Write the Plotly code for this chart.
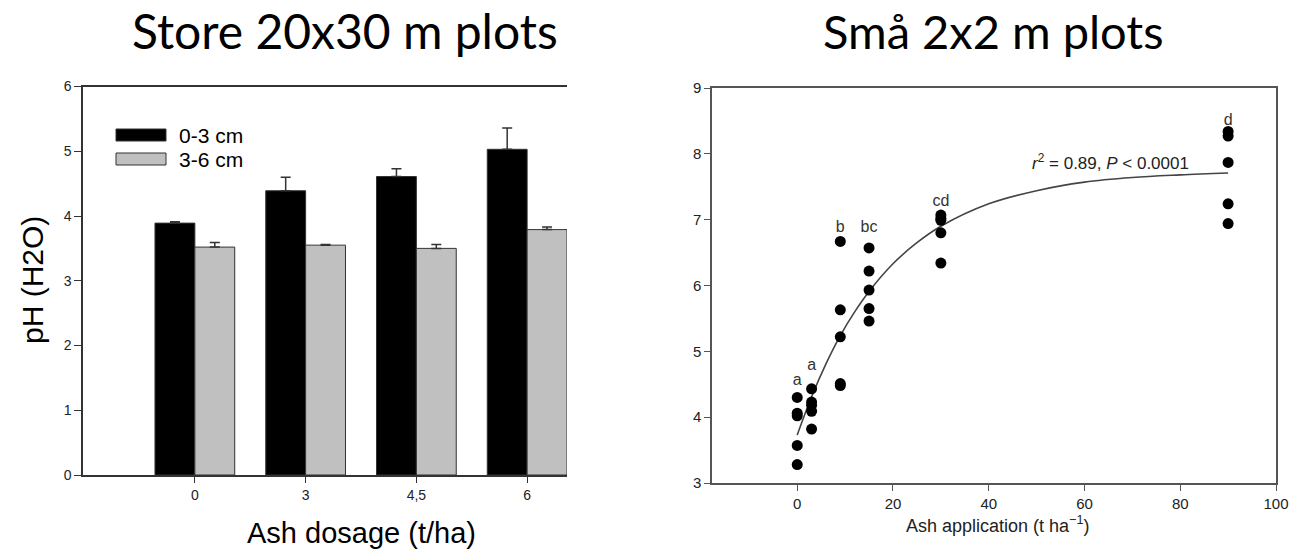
import plotly.graph_objects as go

# ---------------- data: left panel (Store 20x30 m plots) ----------------
dosage_labels = ["0", "3", "4,5", "6"]
ph_0_3 = [3.89, 4.39, 4.61, 5.03]
err_0_3 = [0.02, 0.21, 0.12, 0.33]
ph_3_6 = [3.52, 3.55, 3.50, 3.79]
err_3_6 = [0.07, 0.01, 0.06, 0.04]
series_names = ["0-3 cm", "3-6 cm"]

# ---------------- data: right panel (Små 2x2 m plots) ----------------
ash_x = [0, 0, 0, 0, 0,
         3, 3, 3, 3, 3,
         9, 9, 9, 9, 9,
         15, 15, 15, 15, 15,
         30, 30, 30, 30, 30,
         90, 90, 90, 90, 90]
ash_ph = [4.30, 4.06, 4.02, 3.57, 3.28,
          4.43, 4.23, 4.18, 4.09, 3.82,
          6.67, 5.63, 5.22, 4.51, 4.48,
          6.57, 6.22, 5.93, 5.65, 5.46,
          7.07, 7.02, 6.99, 6.80, 6.34,
          8.34, 8.27, 7.87, 7.24, 6.94]
# fitted curve
curve_x = [0, 3, 6, 9, 12, 15, 20, 25, 30, 40, 50, 60, 70, 80, 90]
curve_y = [3.73, 4.31, 4.81, 5.24, 5.60, 5.91, 6.33, 6.65, 6.90, 7.24, 7.44, 7.57, 7.64, 7.68, 7.71]
group_letters = ["a", "a", "b", "bc", "cd", "d"]
letter_x = [0, 3, 9, 15, 30, 90]
letter_y = [4.55, 4.78, 6.88, 6.88, 7.27, 8.50]

W, H = 1300, 551
def fx(p):
    return p / W
def fy(p):
    return 1 - p / H

AX = "#333333"
FONT = "Liberation Sans, Arial"
fig = go.Figure()

fig.add_trace(go.Bar(
    x=dosage_labels, y=ph_0_3, name=series_names[0],
    marker=dict(color="black", line=dict(color="#333333", width=1)),
    error_y=dict(type="data", symmetric=False, array=err_0_3,
                 arrayminus=[0] * len(err_0_3), color="#333333",
                 thickness=1.5, width=5),
    xaxis="x", yaxis="y", showlegend=False))
fig.add_trace(go.Bar(
    x=dosage_labels, y=ph_3_6, name=series_names[1],
    marker=dict(color="#c0c0c0", line=dict(color="#333333", width=1)),
    error_y=dict(type="data", symmetric=False, array=err_3_6,
                 arrayminus=[0] * len(err_3_6), color="#333333",
                 thickness=1.5, width=5),
    xaxis="x", yaxis="y", showlegend=False))

fig.add_trace(go.Scatter(
    x=curve_x, y=curve_y, mode="lines", line=dict(color="#444444", width=1.6, shape="spline"),
    xaxis="x2", yaxis="y2", showlegend=False))
fig.add_trace(go.Scatter(
    x=ash_x, y=ash_ph, mode="markers",
    marker=dict(color="black", size=11),
    xaxis="x2", yaxis="y2", showlegend=False))
fig.add_trace(go.Scatter(
    x=letter_x, y=letter_y, mode="text", text=group_letters,
    textfont=dict(family=FONT, size=16, color="#333333"),
    xaxis="x2", yaxis="y2", showlegend=False))

annotations = [
    dict(text="Store 20x30 m plots", x=fx(345), y=fy(31), xref="paper", yref="paper",
         showarrow=False, font=dict(family="Lato", size=48, color="black"),
         xanchor="center", yanchor="middle"),
    dict(text="Små 2x2 m plots", x=fx(993), y=fy(31), xref="paper", yref="paper",
         showarrow=False, font=dict(family="Lato", size=47, color="black"),
         xanchor="center", yanchor="middle"),
    dict(text="pH (H2O)", x=fx(32), y=fy(280), xref="paper", yref="paper",
         showarrow=False, textangle=-90, font=dict(family=FONT, size=30, color="black"),
         xanchor="center", yanchor="middle"),
    dict(text="Ash dosage (t/ha)", x=fx(361), y=fy(533), xref="paper", yref="paper",
         showarrow=False, font=dict(family=FONT, size=29, color="black"),
         xanchor="center", yanchor="middle"),
    dict(text="Ash application (t ha<sup>−1</sup>)", x=fx(997), y=fy(524), xref="paper", yref="paper",
         showarrow=False, font=dict(family=FONT, size=18, color="#222222"),
         xanchor="center", yanchor="middle"),
    dict(text="<i>r</i><sup>2</sup> = 0.89, <i>P</i> &lt; 0.0001", x=65.5, y=7.87, xref="x2", yref="y2",
         showarrow=False, font=dict(family=FONT, size=17, color="#222222"),
         xanchor="center", yanchor="middle"),
    dict(text=series_names[0], x=fx(177), y=fy(135), xref="paper", yref="paper",
         showarrow=False, font=dict(family=FONT, size=21, color="black"),
         xanchor="left", yanchor="middle"),
    dict(text=series_names[1], x=fx(177), y=fy(159), xref="paper", yref="paper",
         showarrow=False, font=dict(family=FONT, size=21, color="black"),
         xanchor="left", yanchor="middle"),
]

shapes = [
    dict(type="rect", xref="paper", yref="paper", x0=fx(116), x1=fx(166), y0=fy(141), y1=fy(129),
         fillcolor="black", line=dict(color="#333333", width=1)),
    dict(type="rect", xref="paper", yref="paper", x0=fx(116), x1=fx(166), y0=fy(165), y1=fy(153),
         fillcolor="#c0c0c0", line=dict(color="#333333", width=1)),
]

fig.update_layout(
    width=W, height=H, margin=dict(l=0, r=0, t=0, b=0, pad=0, autoexpand=False),
    paper_bgcolor="white", plot_bgcolor="white",
    barmode="group", bargap=0.28, bargroupgap=0,
    xaxis=dict(domain=[fx(83), fx(567)], range=[-1.01, 3.36], type="category", automargin=False,
               showline=True, linecolor=AX, linewidth=1.5, mirror=True,
               ticks="outside", ticklen=6, tickcolor=AX, showgrid=False, zeroline=False,
               tickfont=dict(family=FONT, size=14, color="#222222")),
    yaxis=dict(domain=[fy(475), fy(86.5)], range=[0, 6], dtick=1, automargin=False,
               showline=True, linecolor=AX, linewidth=1.5,
               ticks="outside", ticklen=7, tickcolor=AX, showgrid=False, zeroline=False,
               tickfont=dict(family=FONT, size=14, color="#222222")),
    xaxis2=dict(domain=[fx(712), fx(1276)], range=[-17.8, 100], dtick=20, anchor="y2", automargin=False,
                showline=True, linecolor="#555555", linewidth=1.5, mirror=True,
                ticks="outside", ticklen=6, tickcolor="#555555", showgrid=False, zeroline=False,
                tickfont=dict(family=FONT, size=15, color="#222222")),
    yaxis2=dict(domain=[fy(483), fy(88)], range=[3, 9], dtick=1, anchor="x2", automargin=False,
                showline=True, linecolor="#555555", linewidth=1.5, mirror=True,
                ticks="outside", ticklen=6, tickcolor="#555555", showgrid=False, zeroline=False,
                tickfont=dict(family=FONT, size=15, color="#222222")),
    annotations=annotations, shapes=shapes,
)

fig.write_html("out.html", config={"displayModeBar": False},
               post_script="document.body.style.margin='0px';document.body.style.overflow='hidden';")
